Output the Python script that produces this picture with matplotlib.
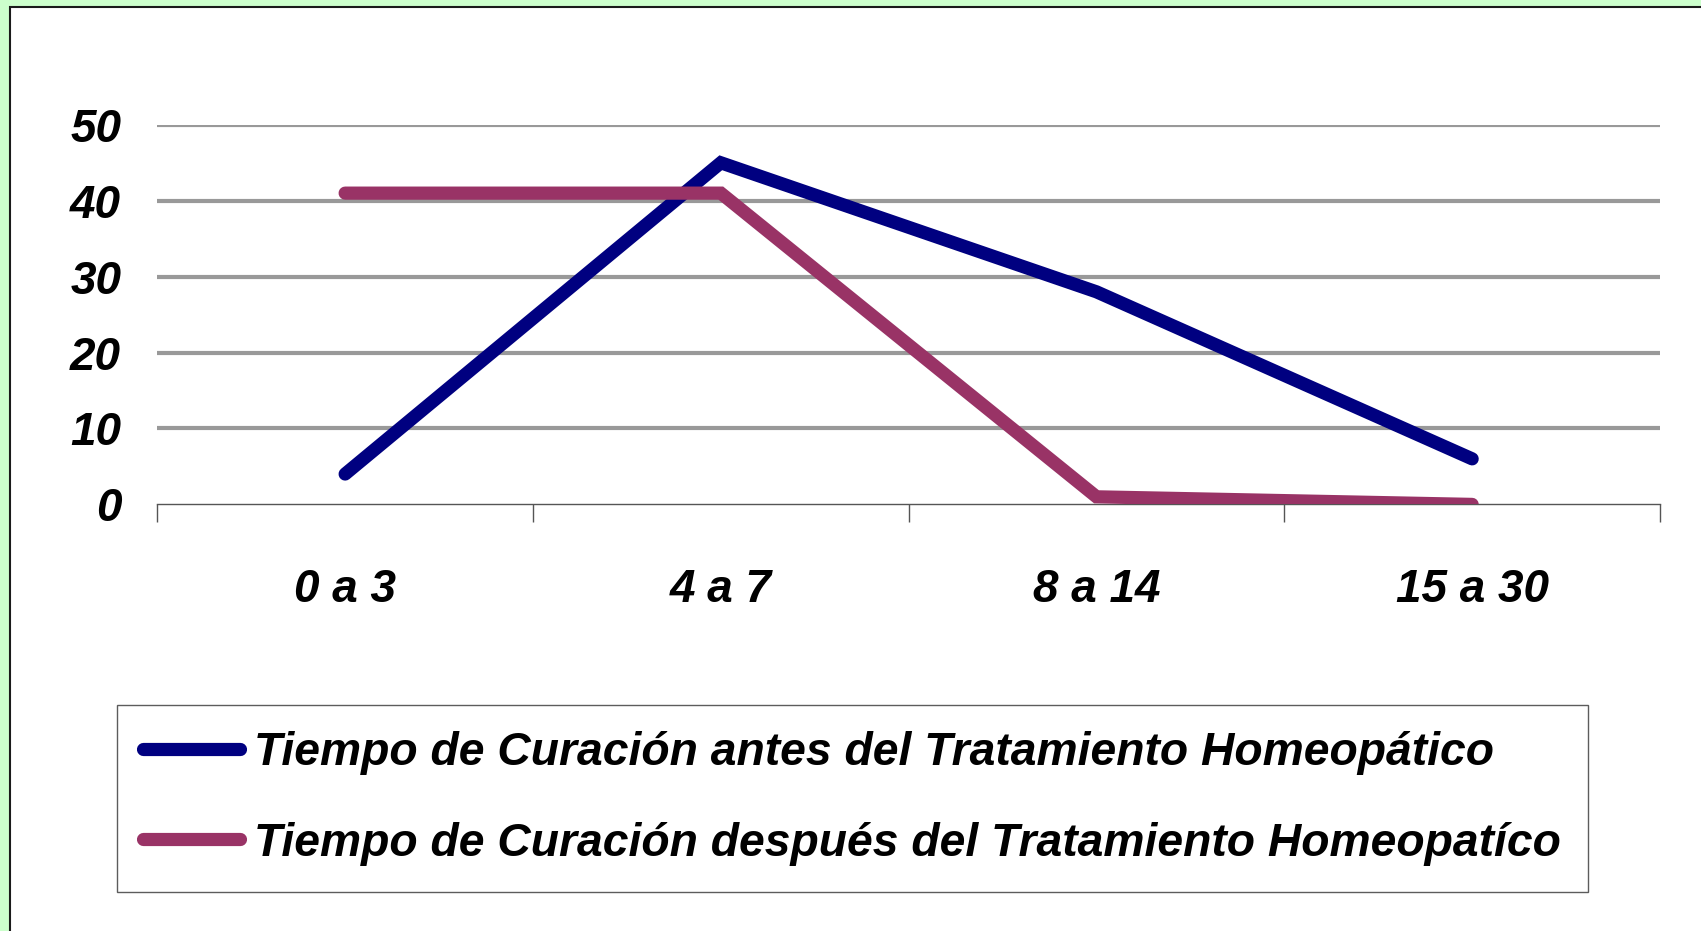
import matplotlib
matplotlib.use("Agg")
import matplotlib.pyplot as plt
from matplotlib.patches import Rectangle

categories = ["0 a 3", "4 a 7", "8 a 14", "15 a 30"]
antes = [4, 45, 28, 6]
despues = [41, 41, 1, 0]
series_labels = ["Tiempo de Curación antes del Tratamiento Homeopático",
                 "Tiempo de Curación después del Tratamiento Homeopatíco"]
yticks = [0, 10, 20, 30, 40, 50]

FONT = ["Liberation Sans Narrow", "Liberation Sans", "DejaVu Sans"]
plt.rcParams['font.family'] = FONT

W, H = 1701, 931
fig = plt.figure(figsize=(W / 100, H / 100), dpi=100)
fig.patch.set_facecolor("#CCFFCC")
bg = Rectangle((10 / W, -0.01), 1.0, 1.01 - 7 / H, transform=fig.transFigure,
               facecolor="white", edgecolor="#1a1a1a", linewidth=1.5, zorder=-5)
fig.patches.append(bg)

ax = fig.add_axes([157.3 / W, 1 - 504.4 / H, (1660 - 157.3) / W, (504.4 - 124.8) / H])
ax.set_facecolor("none")
x = list(range(len(categories)))
ax.plot(x, antes, color="#000080", lw=9.5, solid_capstyle="round", solid_joinstyle="miter",
        label=series_labels[0], zorder=3)
ax.plot(x, despues, color="#993366", lw=9.5, solid_capstyle="round", solid_joinstyle="miter",
        label=series_labels[1], zorder=3)

ax.set_xlim(-0.5, len(categories) - 0.5)
ax.set_ylim(0, 50)
ax.set_yticks(yticks)
ax.set_yticklabels([str(v) for v in yticks])
for v in yticks[1:]:
    ax.axhline(v, color="#999999", lw=3, zorder=1)

ax.set_xticks(x)
ax.set_xticklabels(categories)
ax.set_xticks([i - 0.5 for i in range(len(categories) + 1)], minor=True)
ax.tick_params(axis="x", which="major", length=0, pad=46)
ax.tick_params(axis="x", which="minor", length=13, width=1, color="#555555", direction="out")
ax.tick_params(axis="y", length=0, pad=26)
for lab in ax.get_xticklabels() + ax.get_yticklabels():
    lab.set_fontsize(33)
    lab.set_fontweight("bold")
    lab.set_fontstyle("italic")

for s in ["top", "right", "left"]:
    ax.spines[s].set_visible(False)
ax.spines["bottom"].set_color("#555555")
ax.spines["bottom"].set_linewidth(1)

leg = fig.legend(loc="upper left", bbox_to_anchor=(117 / W, 1 - 705 / H),
                 prop={"family": FONT, "weight": "bold", "style": "italic", "size": 33.3},
                 frameon=True, fancybox=False, edgecolor="#333333",
                 handlelength=2.1, handletextpad=0.3, labelspacing=1.0,
                 borderpad=0.57, borderaxespad=0)
leg.get_frame().set_linewidth(1)

fig.savefig("out.png", dpi=100, facecolor=fig.get_facecolor())
